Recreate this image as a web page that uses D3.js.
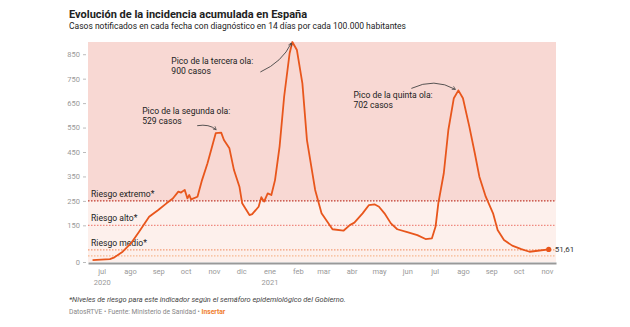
<!DOCTYPE html>
<html>
<head>
<meta charset="UTF-8">
<title>Incidencia acumulada</title>
<script src="https://cdn.jsdelivr.net/npm/d3@7"></script>
<style>
  body { margin: 0; background: #fff; font-family: Roboto, "Noto Sans", sans-serif; }
  svg text { font-family: Roboto, "Noto Sans", sans-serif; }
</style>
</head>
<body>
<svg width="630" height="327"></svg>
<script>
// datos (fecha, incidencia a 14 días)
var fechas = ["2020-06-21","2020-07-10","2020-07-15","2020-07-24","2020-08-02","2020-08-11","2020-08-22",
  "2020-09-01","2020-09-10","2020-09-17","2020-09-23","2020-09-26","2020-09-30","2020-10-03","2020-10-05",
  "2020-10-07","2020-10-14","2020-10-19","2020-10-25","2020-10-31","2020-11-03","2020-11-09","2020-11-12",
  "2020-11-18","2020-11-23","2020-11-29","2020-12-02","2020-12-10","2020-12-13","2020-12-20","2020-12-23",
  "2020-12-26","2020-12-30","2021-01-03","2021-01-07","2021-01-12","2021-01-17","2021-01-23","2021-01-26",
  "2021-01-31","2021-02-06","2021-02-11","2021-02-20","2021-02-27","2021-03-11","2021-03-23","2021-03-30",
  "2021-04-04","2021-04-13","2021-04-20","2021-04-26","2021-05-01","2021-05-07","2021-05-14","2021-05-21",
  "2021-06-01","2021-06-12","2021-06-21","2021-06-28","2021-07-02","2021-07-05","2021-07-11","2021-07-16",
  "2021-07-22","2021-07-27","2021-08-01","2021-08-08","2021-08-14","2021-08-19","2021-08-26","2021-09-03",
  "2021-09-08","2021-09-15","2021-09-24","2021-10-04","2021-10-13","2021-10-22","2021-11-03"];
var incidencia = [8,12,19,42,76,124,185,
  213,240,260,288,284,295,260,274,
  256,267,335,404,486,527,529,499,
  465,376,308,240,192,196,226,265,
  247,281,274,335,472,676,854,900,
  867,731,499,295,199,134,128,151,
  161,199,233,236,226,199,158,134,
  122,110,94,97,145,240,363,540,
  670,702,670,554,445,349,267,199,
  131,90,67,53,42,46,51.61];

var ticksY = [0,150,250,350,450,550,650,750,850];
var umbrales = [250,150,50,25];
var nombresRiesgo = ["Riesgo extremo*","Riesgo alto*","Riesgo medio*"];
var picos = [
  {fecha:"2020-11-09", lineas:["Pico de la segunda ola:","529 casos"]},
  {fecha:"2021-01-26", lineas:["Pico de la tercera ola:","900 casos"]},
  {fecha:"2021-07-27", lineas:["Pico de la quinta ola:","702 casos"]}
];

var parse = d3.timeParse("%Y-%m-%d");
var datos = fechas.map(function(f,i){ return {fecha:parse(f), valor:incidencia[i]}; });

var svg = d3.select("svg");
var margin = {left:88, right:74, top:42, bottom:65};
var W = 630, H = 327;
var x = d3.scaleTime()
  .domain([parse("2020-06-16"), parse("2021-11-11")])
  .range([margin.left, W - margin.right]);
var y = d3.scaleLinear().domain([0,900]).range([H - margin.bottom, margin.top]);

// títulos
svg.append("text").attr("x",69).attr("y",17.5)
  .attr("font-size",11).attr("font-weight","bold").attr("fill","#222")
  .text("Evolución de la incidencia acumulada en España");
svg.append("text").attr("x",69).attr("y",28.5)
  .attr("font-size",8.5).attr("fill","#222")
  .text("Casos notificados en cada fecha con diagnóstico en 14 días por cada 100.000 habitantes");

// bandas de riesgo
var x0 = x.range()[0], x1 = x.range()[1];
svg.append("rect").attr("x",x0).attr("width",x1-x0)
  .attr("y",y(900)).attr("height",y(250)-y(900)).attr("fill","#f8d8d3");
svg.append("rect").attr("x",x0).attr("width",x1-x0)
  .attr("y",y(250)).attr("height",y(0)-y(250)).attr("fill","#fdf0ec");

var coloresUmbral = ["#c0392b","#f08a80","#f49a74","#f7b890"];
svg.append("g").selectAll("line").data(umbrales).enter().append("line")
  .attr("x1",x0).attr("x2",x1)
  .attr("y1",function(d){ return y(d); }).attr("y2",function(d){ return y(d); })
  .attr("stroke",function(d,i){ return coloresUmbral[i]; })
  .attr("stroke-width",1.2)
  .attr("stroke-dasharray","1.5,1.5");

svg.append("g").selectAll("text").data(nombresRiesgo).enter().append("text")
  .attr("x",x0+3)
  .attr("y",function(d,i){ return y(umbrales[i]) - 4; })
  .attr("font-size",8.6).attr("fill","#222")
  .text(function(d){ return d; });

// eje Y
var gy = svg.append("g").attr("transform","translate("+(x0-2)+",0)")
  .call(d3.axisLeft(y).tickValues(ticksY).tickSize(3).tickPadding(3));
gy.select(".domain").remove();
gy.selectAll("line").attr("stroke","#bbb");
gy.selectAll("text").attr("fill","#999").attr("font-size",7.5);

// eje X
var meses = ["ene","feb","mar","abr","may","jun","jul","ago","sep","oct","nov","dic"];
var gx = svg.append("g").attr("transform","translate(0,"+(y(0)+1)+")")
  .call(d3.axisBottom(x).ticks(d3.timeMonth.every(1)).tickSize(0).tickPadding(6)
    .tickFormat(function(d){ return meses[d.getMonth()]; }));
gx.select(".domain").attr("stroke","#999").attr("stroke-width",2);
gx.selectAll("text").attr("fill","#999").attr("font-size",7.5);
gx.selectAll(".tick").filter(function(d){ return d.getMonth()===0 || (d.getMonth()===6 && d.getFullYear()===2020); })
  .append("text").attr("y",17).attr("dy","0.71em").attr("fill","#999").attr("font-size",7.5)
  .text(function(d){ return d.getFullYear(); });

// línea
var linea = d3.line().x(function(d){ return x(d.fecha); }).y(function(d){ return y(d.valor); });
svg.append("path").datum(datos).attr("d",linea)
  .attr("fill","none").attr("stroke","#e8561c").attr("stroke-width",1.8).attr("stroke-linejoin","round");

var ultimo = datos[datos.length-1];
svg.append("circle").attr("cx",x(ultimo.fecha)).attr("cy",y(ultimo.valor)).attr("r",2.6).attr("fill","#e8561c");
svg.append("text").attr("x",x(ultimo.fecha)+6).attr("y",y(ultimo.valor)+3)
  .attr("font-size",8).attr("fill","#333")
  .text(d3.format(",.2f")(ultimo.valor).replace(".",","));

// anotaciones
svg.append("defs").append("marker").attr("id","flecha")
  .attr("viewBox","0 0 10 10").attr("refX",8).attr("refY",5)
  .attr("markerWidth",5).attr("markerHeight",5).attr("orient","auto")
  .append("path").attr("d","M1,1 L8,5 L1,9").attr("fill","none").attr("stroke","#444").attr("stroke-width",1.5);

var desplaz = [
  {tx:-79, ty:-19, a:[-24,-7], b:[-5,-3], c:[-12,-9]},
  {tx:-121, ty:22, a:[-32,30], b:[-1,1], c:[-10,20]},
  {tx:-105, ty:8, a:[-47,-2], b:[-3,-1], c:[-24,-13]}
];
picos.forEach(function(p,i){
  var f = parse(p.fecha);
  var v = incidencia[fechas.indexOf(p.fecha)];
  var px = x(f), py = y(v), o = desplaz[i];
  var t = svg.append("text").attr("font-size",8.6).attr("fill","#222");
  p.lineas.forEach(function(l,j){
    t.append("tspan").attr("x",px+o.tx).attr("y",py+o.ty+j*10).text(l);
  });
  var path = d3.path();
  path.moveTo(px+o.a[0], py+o.a[1]);
  path.quadraticCurveTo(px+o.c[0], py+o.c[1], px+o.b[0], py+o.b[1]);
  svg.append("path").attr("d",path.toString()).attr("fill","none")
    .attr("stroke","#444").attr("stroke-width",0.9).attr("marker-end","url(#flecha)");
});

// notas
svg.append("text").attr("x",69).attr("y",302).attr("font-size",7.4).attr("font-style","italic").attr("fill","#444")
  .text("*Niveles de riesgo para este indicador según el semáforo epidemiológico del Gobierno.");
var fuente = svg.append("text").attr("x",69).attr("y",313.5).attr("font-size",6.7).attr("fill","#888");
fuente.append("tspan").text("DatosRTVE • Fuente: Ministerio de Sanidad • ");
fuente.append("tspan").attr("fill","#f07d2e").attr("font-weight","bold").text("Insertar");
</script>
</body>
</html>
